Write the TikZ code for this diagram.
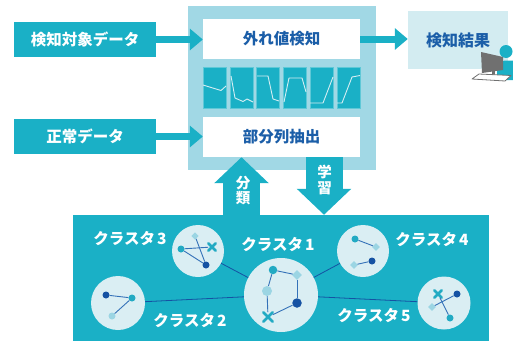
\documentclass[tikz,border=0pt]{standalone}
\usepackage{fontspec}
\setmainfont{Noto Sans CJK JP}
\usetikzlibrary{arrows.meta,shapes.geometric,shapes.misc}
\definecolor{tealA}{HTML}{1AB0C6}
\definecolor{paleA}{HTML}{A1D8E5}
\definecolor{resbg}{HTML}{D3ECF1}
\definecolor{disc}{HTML}{DAEEF3}
\definecolor{navy}{HTML}{1B5EA8}
\definecolor{mdark}{HTML}{1552A3}
\definecolor{mteal}{HTML}{22AAC3}
\definecolor{mlight}{HTML}{9BD5E3}
\definecolor{edgeblue}{HTML}{3471B8}
\definecolor{wave}{HTML}{D5EEF3}
\definecolor{screen}{HTML}{707070}
\begin{document}
\begin{tikzpicture}[x=1pt,y=-1pt,
  inbox/.style={fill=tealA,text=white,font=\fontsize{15.5}{18}\selectfont\bfseries,inner sep=0pt},
  procbox/.style={fill=white,text=navy,font=\fontsize{15.5}{18}\selectfont\bfseries,inner sep=0pt,minimum width=157pt,minimum height=40pt},
  wavepanel/.style={fill=tealA,draw=tealA!70!white,line width=0.4pt,inner sep=0pt,minimum width=23pt,minimum height=41pt},
  waveline/.style={draw=wave,line width=0.9pt,line join=round},
  blockarrow/.style={draw=tealA,line width=7pt,-{Triangle[width=21pt,length=13pt]}},
  bigarrow/.style={draw=tealA,line width=37pt,-{Triangle[width=53pt,length=26pt]}},
  arrowtext/.style={text=white,font=\fontsize{14.5}{15.5}\selectfont\bfseries,align=center,inner sep=0pt},
  cluster/.style={circle,fill=disc,inner sep=0pt},
  clabel/.style={text=white,font=\fontsize{15.5}{18}\selectfont\bfseries,inner sep=0pt},
  link/.style={draw=mdark,line width=0.8pt},
  inlink/.style={draw=edgeblue,line width=0.9pt},
  dotD/.style={circle,fill=mdark,inner sep=0pt,minimum size=#1},
  dotT/.style={circle,fill=mteal,inner sep=0pt,minimum size=#1},
  dotL/.style={circle,fill=mlight,inner sep=0pt,minimum size=#1},
  dia/.style={diamond,fill=mlight,inner sep=0pt,minimum size=#1},
  xmark/.style={cross out,draw=mteal,line width=2.6pt,line cap=round,inner sep=0pt,minimum size=#1}
]
\useasboundingbox (0,0) rectangle (513,340);

% processing frame with its two stages
\node[fill=paleA,inner sep=0pt,minimum width=188pt,minimum height=164pt] (sys) at (282,88) {};
\node[procbox] (det) at (281.5,39) {外れ値検知};
\node[procbox] (ext) at (281.5,137) {部分列抽出};

% subsequence thumbnails
\node[wavepanel] (w1) at (214.5,87.5) {};
\node[wavepanel] (w2) at (241.5,87.5) {};
\node[wavepanel] (w3) at (268,87.5) {};
\node[wavepanel] (w4) at (295,87.5) {};
\node[wavepanel] (w5) at (321.5,87.5) {};
\node[wavepanel] (w6) at (348.5,87.5) {};
\draw[waveline] (203,85) -- (221,90.5) -- (226,86);
\draw[waveline] (231,76) -- (235,98) -- (243,101.5) -- (247,99) -- (253,102);
\draw[waveline] (257,76) -- (268,76) -- (273,99) -- (279,101);
\draw[waveline] (284,102) -- (289,78) -- (302,78) -- (306,92);
\draw[waveline] (310,103) -- (323,103) -- (333,77);
\draw[waveline] (337,103) -- (342,103) -- (352,77) -- (360,75.5);

% inputs
\node[inbox,minimum width=142pt,minimum height=35pt] (src) at (85,39.5) {検知対象データ};
\node[inbox,minimum width=142pt,minimum height=35pt] (nrm) at (85,136.5) {正常データ};
\draw[blockarrow] (src.east) -- (src.east -| det.west);
\draw[blockarrow] (nrm.east) -- (nrm.east -| ext.west);

% result with operator icon
\node[fill=resbg,text=navy,font=\fontsize{16}{18}\selectfont\bfseries,inner sep=0pt,minimum width=100pt,minimum height=58pt] (res) at (458,40) {検知結果};
\draw[blockarrow] (det.east) -- (det.east -| res.west);
\fill[tealA] (506,51.5) circle[radius=6.5];
\fill[tealA] (497,80) -- (497,69) .. controls (497,63) and (501,60.5) .. (506,60.5) -- (513,60.5) -- (513,80) -- cycle;
\fill[screen] (481,52) -- (503,57) -- (503,70) -- (482,73) -- cycle;
\fill[screen] (491.5,71) rectangle (494.5,75.5);
\draw[screen,fill=white,line width=0.8pt,line join=round] (472,79) -- (479,74) -- (511,75.5) -- (505,81) -- cycle;

% cluster panel
\node[fill=tealA,inner sep=0pt,minimum width=416pt,minimum height=126pt] (clu) at (281,278) {};

% learn / classify arrows
\coordinate (upfoot) at (clu.north -| 241.5,0);
\coordinate (uptip) at (ext.south -| 241.5,0);
\coordinate (dnroot) at (ext.south -| 324,0);
\coordinate (dntip) at (clu.north -| 324,0);
\draw[bigarrow] (upfoot) -- (uptip);
\draw[bigarrow] (dnroot) -- (dntip);
\node[arrowtext] (cls) at (243,190.5) {分\\類};
\node[arrowtext] (lrn) at (324.5,180) {学\\習};

% clusters
\node[cluster,minimum size=74pt] (c1) at (281,295) {};
\node[cluster,minimum size=54pt] (c2) at (118,303) {};
\node[cluster,minimum size=52pt] (c3) at (198,251) {};
\node[cluster,minimum size=52pt] (c4) at (363,251) {};
\node[cluster,minimum size=53pt] (c5) at (444,303) {};
\draw[link] (c3) -- (c1);
\draw[link] (c2) -- (c1);
\draw[link] (c4) -- (c1);
\draw[link] (c5) -- (c1);

\node[clabel] (l1) at (278,245) {クラスタ\hspace{2pt}1};
\node[clabel] (l2) at (190,321) {クラスタ\hspace{2pt}2};
\node[clabel] (l3) at (130,239) {クラスタ\hspace{2pt}3};
\node[clabel] (l4) at (432,240) {クラスタ\hspace{2pt}4};
\node[clabel] (l5) at (374,316) {クラスタ\hspace{2pt}5};

% cluster 1 members
\node[dotT=8.5pt] (a1) at (273,270) {};
\node[dia=10pt] (a2) at (297,275) {};
\node[dotL=10pt] (a3) at (267,291) {};
\node[dotD=9.5pt] (a4) at (297,303) {};
\node[xmark=7pt] (a5) at (268,317) {};
\draw[inlink] (a1) -- (a2);
\draw[inlink] (a1) -- (a3);
\draw[inlink] (a3) -- (a5);
\draw[inlink] (a5) -- (a4);
\draw[inlink] (a4) -- (a2);

% cluster 2 members
\node[dotD=7pt] (b1) at (106,295) {};
\node[dotT=7pt] (b2) at (132,298) {};
\node[dotL=7pt] (b3) at (112,316) {};
\draw[inlink] (b1) -- (b2);
\draw[inlink] (b2) -- (b3);

% cluster 3 members
\node[dia=7.5pt] (d1) at (195,236) {};
\node[xmark=5pt] (d2) at (212,247) {};
\node[dotT=7pt] (d3) at (181,249) {};
\node[dotD=7pt] (d4) at (206,265) {};
\draw[inlink] (d3) -- (d2);
\draw[inlink] (d3) -- (d4);
\draw[inlink] (d1) -- (d4);

% cluster 4 members
\node[dotT=7pt] (e1) at (355,239) {};
\node[dia=8pt] (e2) at (376,247) {};
\node[dia=8pt] (e3) at (354,265) {};
\node[dotD=7pt] (e4) at (372,261) {};
\draw[inlink] (e1) -- (e2);
\draw[inlink] (e3) -- (e4);

% cluster 5 members
\node[xmark=5pt] (f1) at (438,294) {};
\node[dotD=7pt] (f2) at (457,294) {};
\node[dia=8pt] (f3) at (432,307) {};
\node[dotT=7pt] (f4) at (450,318) {};
\draw[inlink] (f3) -- (f2);
\draw[inlink] (f1) -- (f4);
\end{tikzpicture}
\end{document}
